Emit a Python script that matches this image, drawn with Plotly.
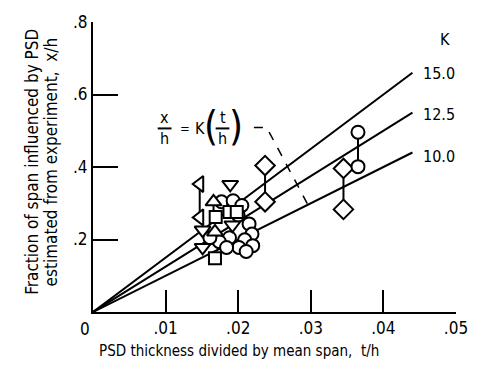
import plotly.graph_objects as go

# ---------------- data ----------------
K_values = [15.0, 12.5, 10.0]
K_labels = ["15.0", "12.5", "10.0"]
line_x_end = 0.044

x_ticks = [0, 0.01, 0.02, 0.03, 0.04, 0.05]
x_ticktext = ["", ".01", ".02", ".03", ".04", ".05"]
y_ticks = [0.2, 0.4, 0.6, 0.8]
y_ticktext = [".2", ".4", ".6", ".8"]

circle_x = [0.0177, 0.0193, 0.0205, 0.0200, 0.0215, 0.0219, 0.0209, 0.0220, 0.0201,
            0.0188, 0.0174, 0.0161, 0.0184, 0.0211]
circle_y = [0.304, 0.307, 0.294, 0.267, 0.243, 0.215, 0.199, 0.183, 0.178,
            0.205, 0.194, 0.205, 0.178, 0.167]

tri_left_x = [0.0147, 0.0147]
tri_left_y = [0.353, 0.261]

tri_up_x = [0.0166, 0.0168]
tri_up_y = [0.304, 0.221]

tri_down_x = [0.0151, 0.0151, 0.0192, 0.0189]
tri_down_y = [0.226, 0.178, 0.240, 0.352]

square_x = [0.0168, 0.0169, 0.0188, 0.0198]
square_y = [0.148, 0.262, 0.276, 0.276]

diamond_x = [0.0237, 0.0237, 0.0345, 0.0345]
diamond_y = [0.404, 0.304, 0.396, 0.283]

dshape_x = [0.0365, 0.0365]
dshape_y = [0.496, 0.401]

# vertical connectors between paired measurements
pair_x = [0.0147, 0.0166, 0.0237, 0.0345, 0.0365]
pair_top = [0.353, 0.304, 0.404, 0.396, 0.496]
pair_bot = [0.261, 0.255, 0.304, 0.283, 0.401]

# ---------------- geometry helpers (plot area in pixels) ----------------
X0, X1, Y0, Y1 = 93, 463, 312, 15
def px2p(px):
    return (px - X0) / (X1 - X0)
def py2p(py):
    return (Y0 - py) / (Y0 - Y1)
def px2x(px):
    return px2p(px) * 0.05
def py2y(py):
    return py2p(py) * 0.8

FONT = "DejaVu Sans Condensed, Liberation Sans Narrow, sans-serif"

fig = go.Figure()

# K lines
for k in K_values:
    fig.add_trace(go.Scatter(x=[0, line_x_end], y=[0, k * line_x_end], mode="lines",
                             line=dict(color="black", width=2), hoverinfo="skip",
                             showlegend=False))

# connectors
cx, cy = [], []
for x, t, b in zip(pair_x, pair_top, pair_bot):
    cx += [x, x, None]
    cy += [t, b, None]
fig.add_trace(go.Scatter(x=cx, y=cy, mode="lines", line=dict(color="black", width=2),
                         showlegend=False, hoverinfo="skip"))

def add_markers(xs, ys, symbol, size):
    fig.add_trace(go.Scatter(x=xs, y=ys, mode="markers", showlegend=False,
                             marker=dict(symbol=symbol, size=size, color="white",
                                         line=dict(color="black", width=2))))

add_markers(circle_x, circle_y, "circle", 13)
add_markers(square_x, square_y, "square", 12)
add_markers(tri_down_x, tri_down_y, "triangle-down", 14)
add_markers(tri_up_x, tri_up_y, "triangle-up", 14)
add_markers(tri_left_x, tri_left_y, "triangle-left", 14)
add_markers(diamond_x, diamond_y, "diamond", 15)
add_markers(dshape_x, dshape_y, "circle", 13)

# ---------------- annotations ----------------
ann = []
def text(px, py, s, size=15, xanchor="center", angle=0):
    ann.append(dict(x=px2p(px), y=py2p(py), xref="paper", yref="paper", text=s,
                    showarrow=False, xanchor=xanchor, yanchor="middle", textangle=angle,
                    font=dict(family=FONT, size=size, color="black")))

# K labels
text(452, 33, "K", 16)
for lab, py in zip(K_labels, [68, 110, 153]):
    text(427, py, lab, 16, xanchor="left")

# equation x/h = K(t/h)
text(166, 113, "x", 16)
text(166, 134, "h", 16)
text(187, 124, "=", 13)
text(202, 124, "K", 16)
text(213, 121, "(", 40)
text(225, 113, "t", 16)
text(225, 134, "h", 16)
text(239, 121, ")", 40)

# origin label
text(85, 329, "0", 17)

# axis titles
text(242, 352, "PSD thickness divided by mean span,  t/h", 15)
text(30, 158, "Fraction of span influenced by PSD", 17, angle=-90)
text(50, 158, "estimated from experiment,  x/h", 17, angle=-90)

shapes = []
# fraction bars
for a, b in [(159, 173), (218, 232)]:
    shapes.append(dict(type="line", xref="x", yref="y", x0=px2x(a), x1=px2x(b),
                       y0=py2y(124), y1=py2y(124), line=dict(color="black", width=2)))
# dashed leader
shapes.append(dict(type="path", xref="x", yref="y",
                   path="M %f,%f L %f,%f L %f,%f" % (px2x(257), py2y(123), px2x(270), py2y(123),
                                                     0.0296, 10.0 * 0.0296),
                   line=dict(color="black", width=1.5, dash="dash")))

fig.update_layout(
    width=480, height=367,
    margin=dict(l=X0, r=480 - X1, t=Y1, b=367 - Y0),
    paper_bgcolor="white", plot_bgcolor="white",
    annotations=ann, shapes=shapes,
    font=dict(family=FONT, color="black"),
)
fig.update_xaxes(range=[0, 0.05], tickvals=x_ticks, ticktext=x_ticktext, ticks="inside",
                 ticklen=22, tickwidth=2, tickcolor="black", showline=True, linewidth=2,
                 linecolor="black", showgrid=False, zeroline=False,
                 tickfont=dict(family=FONT, size=17, color="black"))
fig.update_yaxes(range=[0, 0.8], tickvals=y_ticks, ticktext=y_ticktext, ticks="inside",
                 ticklen=25, tickwidth=2, tickcolor="black", showline=True, linewidth=2,
                 linecolor="black", showgrid=False, zeroline=False,
                 tickfont=dict(family=FONT, size=17, color="black"))

fig.write_html("out.html")
